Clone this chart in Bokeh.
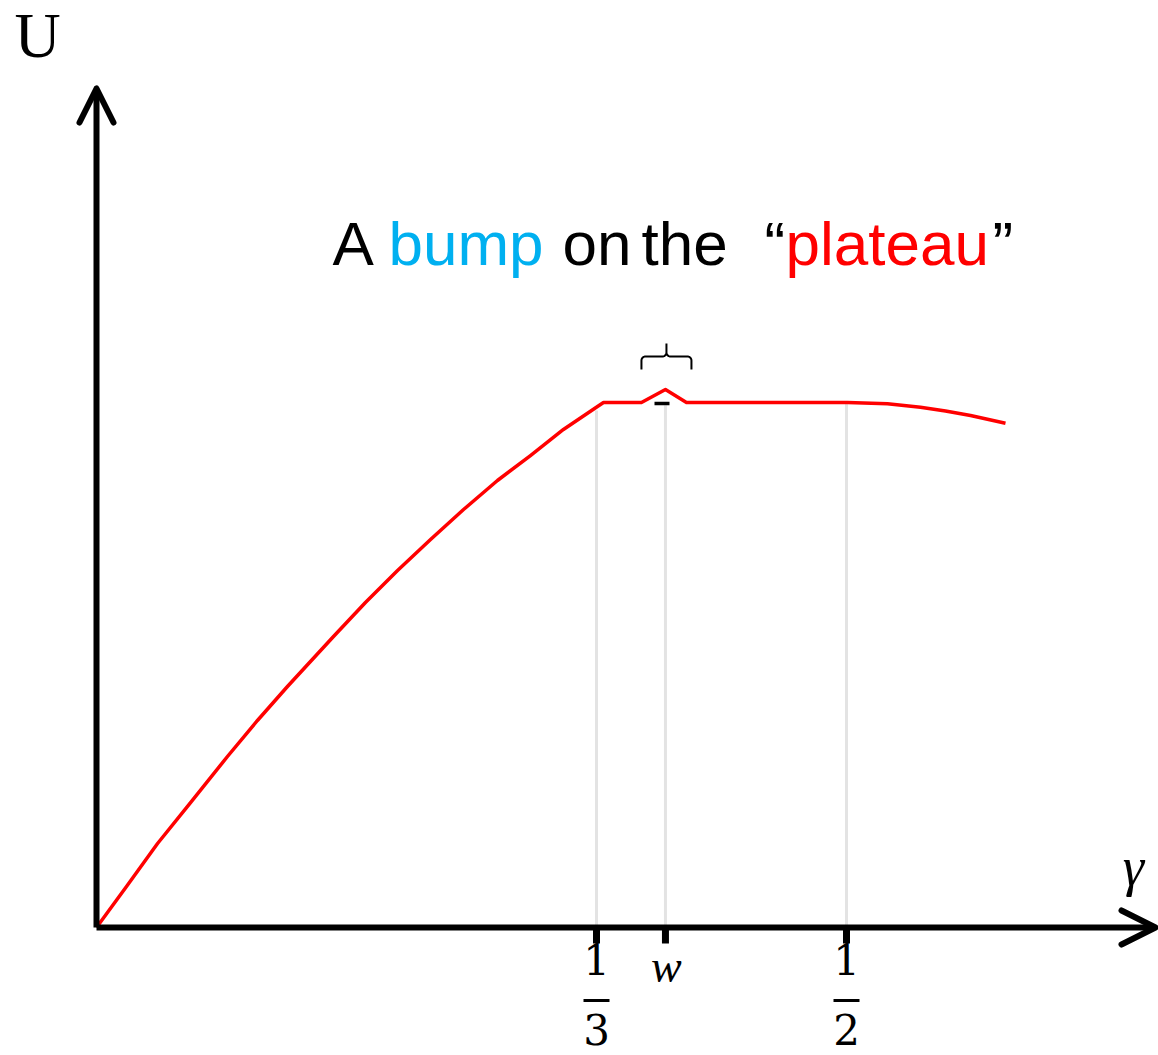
import numpy as np
from bokeh.plotting import figure
from bokeh.models import Range1d, Arrow, OpenHead
from bokeh.core.properties import value
from bokeh.embed import file_html
from bokeh.resources import INLINE

# Utility curve U(gamma): rises to the plateau, a small bump near w, then slow decline
gamma = [0.0, 0.02, 0.0407, 0.0627, 0.0873, 0.1073, 0.1273, 0.158, 0.1793, 0.2007,
         0.2227, 0.2447, 0.2673, 0.2893, 0.3113, 0.334, 0.338,
         0.3633, 0.3793, 0.3933, 0.5007, 0.5273, 0.5493, 0.566, 0.5827, 0.606]
utility = [0.0, 0.0781, 0.160, 0.238, 0.3257, 0.3943, 0.459, 0.5543, 0.619, 0.680,
           0.739, 0.7962, 0.8514, 0.899, 0.9486, 0.9924, 1.0,
           1.0, 1.0248, 1.0, 1.0, 0.9975, 0.991, 0.9838, 0.9752, 0.9606]

# Marked positions on the gamma axis
w_pos = 0.3793
tick_x = [1 / 3, w_pos, 1 / 2]
guide_top = [0.985, 0.995, 1.0]
frac_num = ["1", "1"]
frac_den = ["3", "2"]
frac_x = [1 / 3, 1 / 2]

title_parts = ["A", "bump", "on", "the", "\u201c", "plateau", "\u201d"]
title_colors = ["black", "#00b0f0", "black", "black", "black", "#ff0000", "black"]

W, H = 1158, 1055
X0, Y0, SX, SY = 96, 927, 1500.0, 525.0  # origin in px and px per unit


def gx(px):
    return (px - X0) / SX


def gy(py):
    return (Y0 - py) / SY


p = figure(width=W, height=H, output_backend="svg", toolbar_location=None,
           x_range=Range1d(gx(0), gx(W)), y_range=Range1d(gy(H), gy(0)),
           min_border=0, outline_line_color=None)
p.xaxis.visible = False
p.yaxis.visible = False
p.xgrid.visible = False
p.ygrid.visible = False
p.background_fill_color = "white"

# light vertical guides
p.segment(x0=tick_x, y0=[0] * 3, x1=tick_x, y1=guide_top,
          line_color="#e3e3e3", line_width=3)

# the curve
p.line(gamma, utility, line_color="#ff0000", line_width=3.5, line_join="round")

# small dash under the bump
p.segment(x0=[w_pos - 0.0073], y0=[gy(403)], x1=[w_pos + 0.0027], y1=[gy(403)],
          line_color="black", line_width=3.5)

# brace above the bump
cx, by, r = X0 + w_pos * SX + 1, 356.0, 4.0
half = 25.0
t = np.linspace(0, np.pi / 2, 8)
left_x = [cx - half, cx - half]
left_y = [369.0, by + r]
left_x += list(cx - half + r - r * np.cos(t))
left_y += list(by + r - r * np.sin(t))
left_x += [cx - r]
left_y += [by]
left_x += list(cx - r + r * np.sin(t))
left_y += list(by - r + r * np.cos(t))
left_x += [cx]
left_y += [343.0]
right_x = [2 * cx - v for v in reversed(left_x)]
right_y = list(reversed(left_y))
bx = left_x + right_x[1:]
byy = left_y + right_y[1:]
p.line([gx(v) for v in bx], [gy(v) for v in byy], line_color="black", line_width=2)

# axes with open arrow heads
p.add_layout(Arrow(end=OpenHead(size=34, line_width=6, line_cap="round", line_join="round"),
                   x_start=0, y_start=0, x_end=gx(1155), y_end=0,
                   line_width=6, line_color="black"))
p.add_layout(Arrow(end=OpenHead(size=34, line_width=6, line_cap="round", line_join="round"),
                   x_start=0, y_start=0, x_end=0, y_end=gy(88),
                   line_width=6, line_color="black"))

# tick marks
p.segment(x0=tick_x, y0=[0] * 3, x1=tick_x, y1=[gy(943)] * 3,
          line_color="black", line_width=7)

# fraction tick labels
serif = value("DejaVu Serif")
p.text(x=frac_x, y=[gy(959)] * 2, text=frac_num, text_font=serif,
       text_font_size="42px", text_align="center", text_baseline="alphabetic",
       text_color="black")
p.text(x=frac_x, y=[gy(1029)] * 2, text=frac_den, text_font=serif,
       text_font_size="42px", text_align="center", text_baseline="alphabetic",
       text_color="black")
p.segment(x0=[v - 13 / SX for v in frac_x], y0=[gy(1000)] * 2,
          x1=[v + 13 / SX for v in frac_x], y1=[gy(1000)] * 2,
          line_color="black", line_width=3)
p.text(x=[w_pos + 1 / SX], y=[gy(966)], text=["w"], text_font=value("Liberation Serif"),
       text_font_style="italic", text_font_size="46px", text_align="center",
       text_baseline="alphabetic", text_color="black")

# axis names
p.text(x=[gx(37)], y=[gy(35)], text=["U"], text_font=value("Liberation Serif"),
       text_font_size="64px", text_align="center", text_baseline="alphabetic",
       text_color="black")
p.text(x=[gx(1133)], y=[gy(866)], text=["\u03b3"], text_font=value("Liberation Serif"),
       text_font_style="italic", text_font_size="54px", text_align="center",
       text_baseline="alphabetic", text_color="black")

# caption, one run per colour
title_px = [332, 388, 562, 641, 764, 785, 992]
p.text(x=[gx(v) for v in title_px], y=[gy(243)] * len(title_parts), text=title_parts,
       text_color=title_colors, text_font=value("Liberation Sans"),
       text_font_size="62px", text_align="left", text_baseline="alphabetic")

open("out.html", "w").write(file_html(p, INLINE))
